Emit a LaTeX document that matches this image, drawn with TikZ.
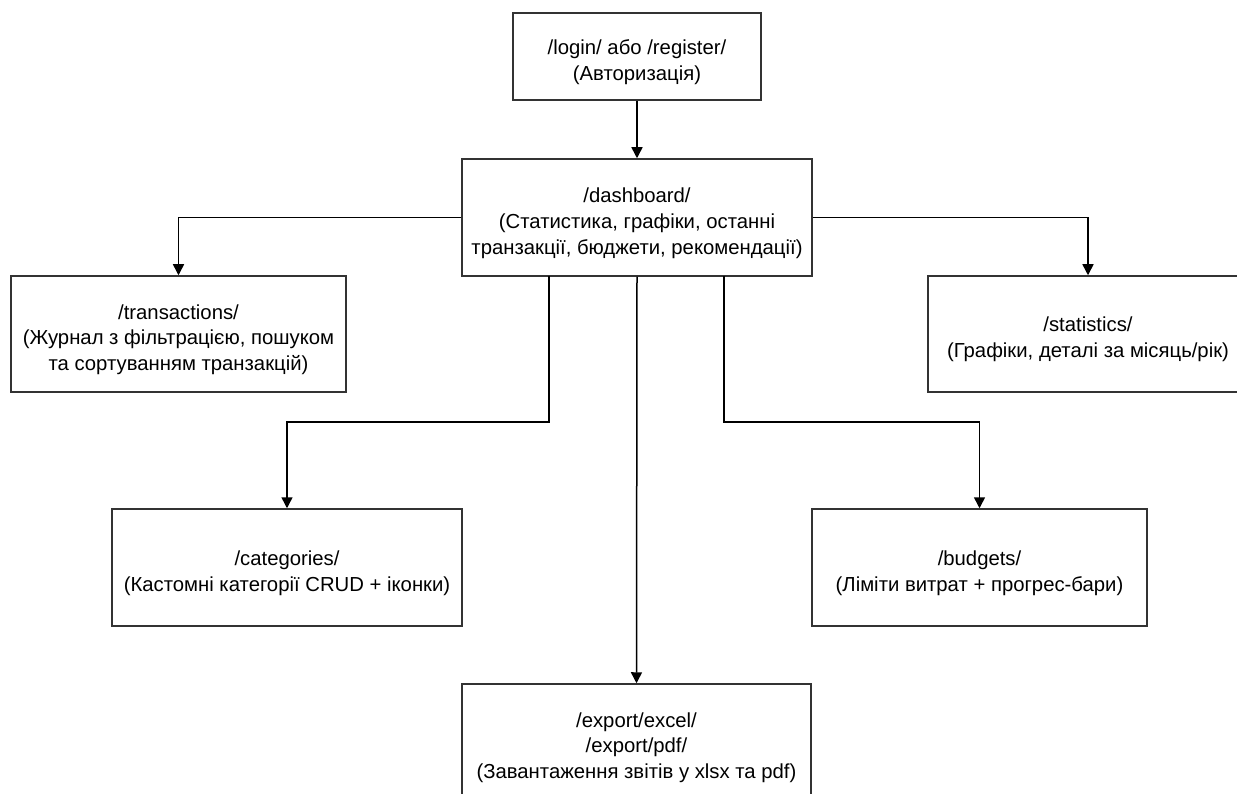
\documentclass[tikz,border=0pt]{standalone}
\usepackage{fontspec}
\setmainfont{Liberation Sans}
\usetikzlibrary{arrows.meta}
\newcommand\toppad{\rule{0pt}{26pt}}
\begin{document}
\begin{tikzpicture}[x=1pt,y=-1pt,
  box/.style={draw=black!80, line width=1.5pt, fill=white, rectangle, align=center,
    inner sep=0pt, font=\fontsize{20.3}{25.8}\selectfont},
  conn/.style={draw=black, line width=1.5pt, -{Triangle[length=11pt,width=11pt]}}]
\useasboundingbox (0,0) rectangle (1237,794);
\clip (0,0) rectangle (1237,794);
\node[box, minimum width=248pt, minimum height=87pt] (login) at (637,56.5)
  {\toppad/login/ або /register/\\(Авторизація)};
\node[box, minimum width=350pt, minimum height=117pt] (dash) at (637,217.5)
  {\toppad/dashboard/\\(Статистика, графіки, останні\\транзакції, бюджети, рекомендації)};
\node[box, minimum width=335pt, minimum height=116pt] (trans) at (178.5,334)
  {\toppad/transactions/\\(Журнал з фільтрацією, пошуком\\та сортуванням транзакцій)};
\node[box, minimum width=320pt, minimum height=116pt] (stat) at (1088,334)
  {\toppad/statistics/\\(Графіки, деталі за місяць/рік)};
\node[box, minimum width=350pt, minimum height=117pt] (cat) at (287,567.5)
  {\toppad/categories/\\(Кастомні категорії CRUD + іконки)};
\node[box, minimum width=335pt, minimum height=117pt] (bud) at (979.5,567.5)
  {\toppad/budgets/\\(Ліміти витрат + прогрес-бари)};
\node[box, minimum width=349pt, minimum height=116pt] (exp) at (636.5,742)
  {\toppad/export/excel/\\/export/pdf/\\(Завантаження звітів у xlsx та pdf)};
\draw[conn] (login.south) -- (dash.north);
\draw[conn] (dash.west) -| (trans.north);
\draw[conn] (dash.east) -| (stat.north);
\coordinate (dl) at (549,276);
\coordinate (dr) at (724,276);
\draw[conn] (dl) |- (400,422) -| (cat.north);
\draw[conn] (dr) |- (900,422) -| (bud.north);
\draw[conn] (dash.south) -- (exp.north);
\end{tikzpicture}
\end{document}
